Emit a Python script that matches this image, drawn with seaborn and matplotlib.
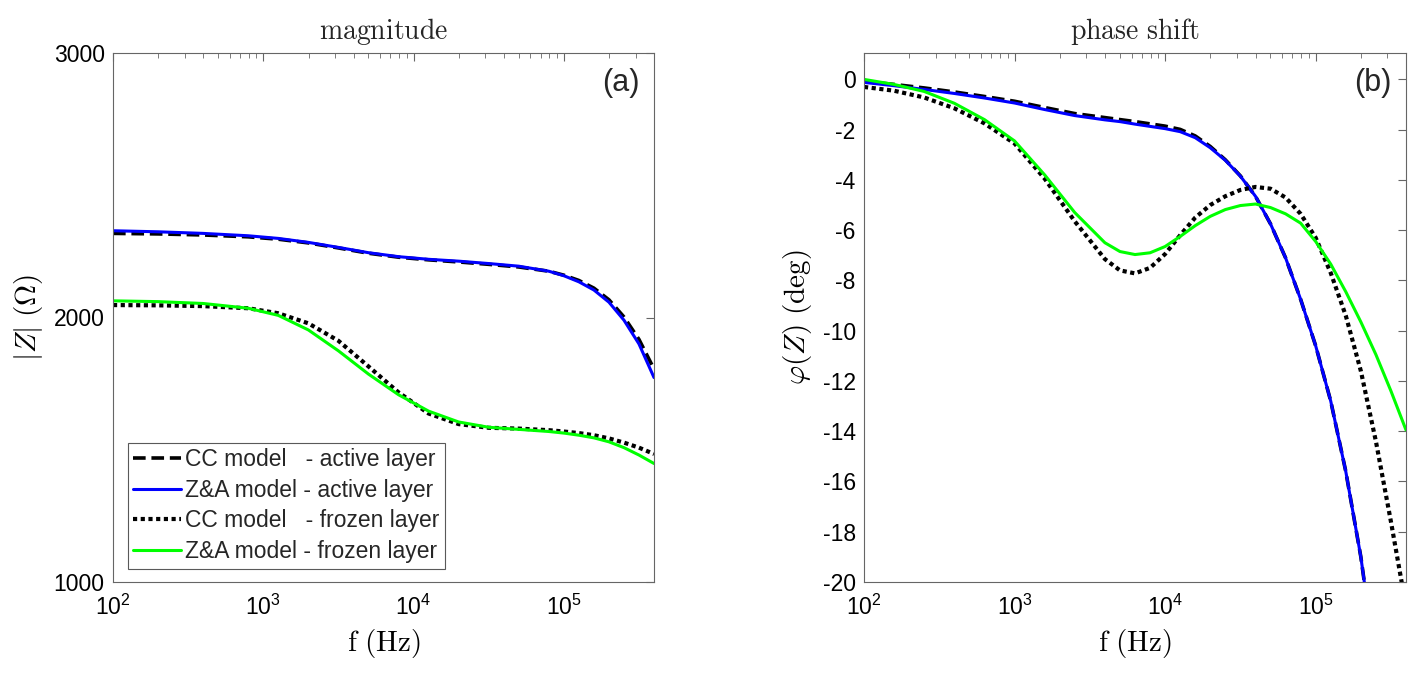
import matplotlib
matplotlib.use("Agg")
import matplotlib.pyplot as plt
import numpy as np
import pandas as pd
import seaborn as sns
from matplotlib.ticker import LogLocator, FixedLocator

# ---------------- data ----------------
# Panel (a): magnitude |Z| (Ohm)
freq_mag = [100, 200, 398, 794, 1259, 1995, 3162, 5012, 7943, 12589, 19953,
            31623, 50119, 79433, 100000, 125893, 158489, 199526, 251189, 316228, 398107]
mag_cc_active = [2318, 2316, 2312, 2305, 2296, 2282, 2263, 2243, 2228, 2218, 2210,
                 2201, 2191, 2175, 2160, 2140, 2111, 2067, 2002, 1917, 1805]
mag_za_active = [2328, 2324, 2318, 2309, 2299, 2284, 2265, 2245, 2230, 2220, 2213,
                 2204, 2194, 2175, 2158, 2135, 2104, 2058, 1990, 1900, 1773]
mag_cc_frozen = [2047, 2046, 2043, 2035, 2016, 1978, 1912, 1815, 1717, 1637, 1597,
                 1583, 1580, 1574, 1569, 1563, 1555, 1543, 1527, 1508, 1484]
mag_za_frozen = [2063, 2060, 2053, 2035, 2008, 1953, 1874, 1786, 1708, 1646, 1605,
                 1585, 1577, 1569, 1563, 1555, 1545, 1530, 1508, 1480, 1448]

# Panel (b): phase shift (deg)
freq_ph = [100, 158, 251, 398, 631, 1000, 1585, 2512, 3981, 5012, 6310, 7943,
           10000, 12589, 15849, 19953, 25119, 31623, 39811, 50119, 63096, 79433,
           100000, 125893, 158489, 199526, 251189, 316228, 398107]
freq_ph_active = freq_ph[:26] + [213796]
ph_cc_active = [-0.08, -0.20, -0.34, -0.50, -0.68, -0.87, -1.12, -1.36, -1.52, -1.60,
                -1.68, -1.77, -1.86, -1.99, -2.25, -2.67, -3.20, -3.84, -4.65, -5.75,
                -7.10, -8.75, -10.6, -12.8, -15.6, -19.0, -20.3]
ph_za_active = [-0.12, -0.25, -0.40, -0.56, -0.74, -0.94, -1.20, -1.44, -1.61, -1.68,
                -1.78, -1.87, -1.96, -2.08, -2.32, -2.72, -3.22, -3.85, -4.65, -5.75,
                -7.10, -8.75, -10.6, -12.8, -15.6, -19.0, -20.3]
freq_ph_ccfrozen = freq_ph[:28] + [380189]
ph_cc_frozen = [-0.30, -0.45, -0.72, -1.15, -1.75, -2.55, -3.95, -5.65, -7.15, -7.60,
                -7.72, -7.50, -6.95, -6.20, -5.50, -5.00, -4.65, -4.40, -4.28, -4.35,
                -4.70, -5.35, -6.30, -7.70, -9.40, -11.6, -14.4, -17.6, -20.3]
ph_za_frozen = [0.0, -0.20, -0.48, -0.95, -1.60, -2.45, -3.80, -5.30, -6.50, -6.85,
                -6.97, -6.90, -6.65, -6.25, -5.82, -5.45, -5.18, -5.02, -4.96, -5.10,
                -5.35, -5.72, -6.45, -7.35, -8.45, -9.65, -10.95, -12.4, -13.95]

labels = ["CC model   - active layer", "Z&A model - active layer",
          "CC model   - frozen layer", "Z&A model - frozen layer"]

# ---------------- style ----------------
sns.set_theme(style="white")
plt.rcParams.update({
    "font.family": ["Liberation Sans", "DejaVu Sans"],
    "mathtext.fontset": "cm",
    "axes.unicode_minus": False,
    "axes.edgecolor": "0.4",
    "axes.linewidth": 0.8,
    "xtick.direction": "in",
    "ytick.direction": "in",
    "xtick.color": "0.4",
    "ytick.color": "0.4",
    "xtick.labelcolor": "black",
    "ytick.labelcolor": "black",
    "xtick.labelsize": 16.5,
    "ytick.labelsize": 16.5,
})

styles = [
    dict(color="black", lw=2.6, linestyle=(0, (3.5, 1.6)), dash_capstyle="butt"),
    dict(color=(0, 0, 1), lw=2.2, linestyle="-"),
    dict(color="black", lw=3.0, linestyle=(0, (1.0, 0.85)), dash_capstyle="butt"),
    dict(color=(0, 1, 0), lw=2.2, linestyle="-"),
]

fig = plt.figure(figsize=(14.24, 6.78), dpi=100)
W, H = 1424, 678
ax1 = fig.add_axes([113 / W, 96 / H, 541 / W, 529 / H])
ax2 = fig.add_axes([864 / W, 96 / H, 542 / W, 529 / H])


def draw(ax, fx, fy, st, lab):
    df = pd.DataFrame({"f": fx, "v": fy})
    sns.lineplot(data=df, x="f", y="v", ax=ax, sort=False, estimator=None,
                 label=lab, **st)


mag_sets = [(freq_mag, mag_cc_active), (freq_mag, mag_za_active),
            (freq_mag, mag_cc_frozen), (freq_mag, mag_za_frozen)]
ph_sets = [(freq_ph_active, ph_cc_active), (freq_ph_active, ph_za_active),
           (freq_ph_ccfrozen, ph_cc_frozen), (freq_ph, ph_za_frozen)]

for (fx, fy), st, lab in zip(mag_sets, styles, labels):
    draw(ax1, fx, fy, st, lab)
for (fx, fy), st, lab in zip(ph_sets, styles, labels):
    draw(ax2, fx, fy, st, lab)

for ax in (ax1, ax2):
    ax.set_xscale("log")
    ax.set_xlim(100, 398107)
    ax.xaxis.set_major_locator(FixedLocator([1e2, 1e3, 1e4, 1e5]))
    ax.xaxis.set_minor_locator(LogLocator(base=10, subs=np.arange(2, 10), numticks=20))
    ax.tick_params(which="both", top=True, right=True)
    ax.tick_params(which="major", length=6, width=0.8, pad=6)
    ax.tick_params(axis="x", which="major", pad=9)
    ax.tick_params(which="minor", length=3.5, width=0.6)
    ax.set_xlabel(r"$\mathrm{f\ (Hz)}$", fontsize=21, color="black", labelpad=5)
    for s in ax.spines.values():
        s.set_visible(True)
    ax.grid(False)

ax1.set_ylim(1000, 3000)
ax1.set_yticks([1000, 2000, 3000])
ax1.set_ylabel(r"$|Z|\ (\Omega)$", fontsize=21, color="black", labelpad=6)
ax1.set_title(r"$\mathrm{magnitude}$", fontsize=20, pad=10)
ax1.text(0.974, 0.972, "(a)", transform=ax1.transAxes, ha="right", va="top", fontsize=22)

ax2.set_ylim(-20, 1.05)
ax2.set_yticks(np.arange(-20, 1, 2))
ax2.set_ylabel(r"$\varphi(Z)\ \mathrm{(deg)}$", fontsize=21, color="black", labelpad=6)
ax2.set_title(r"$\mathrm{phase\ shift}$", fontsize=20, pad=10)
ax2.text(0.974, 0.972, "(b)", transform=ax2.transAxes, ha="right", va="top", fontsize=22)

leg = ax1.legend(loc="lower left", bbox_to_anchor=(0.027, 0.025), borderaxespad=0,
                 fontsize=16.5, frameon=True, fancybox=False, framealpha=1,
                 edgecolor="0.35", borderpad=0.25, labelspacing=0.33,
                 handlelength=2.1, handletextpad=0.15)
leg.get_frame().set_linewidth(0.8)
ax2.get_legend().remove()

fig.savefig("out.png", dpi=100)
